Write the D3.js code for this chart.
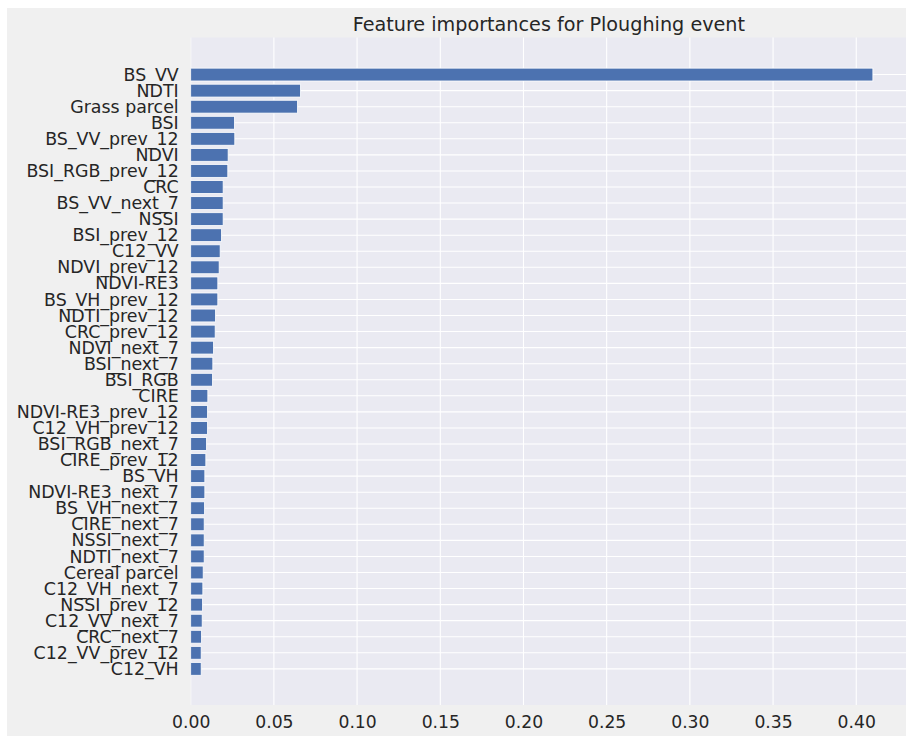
<!DOCTYPE html>
<html>
<head>
<meta charset="utf-8">
<script src="https://cdn.jsdelivr.net/npm/d3@7"></script>
<style>
  html, body { margin: 0; padding: 0; background: #ffffff; }
  svg { display: block; }
  text { font-family: "DejaVu Sans", sans-serif; fill: #262626; }
</style>
</head>
<body>
<script>
// Feature names, most important first
const features = [
  "BS_VV", "NDTI", "Grass parcel", "BSI", "BS_VV_prev_12", "NDVI",
  "BSI_RGB_prev_12", "CRC", "BS_VV_next_7", "NSSI", "BSI_prev_12", "C12_VV",
  "NDVI_prev_12", "NDVI-RE3", "BS_VH_prev_12", "NDTI_prev_12", "CRC_prev_12",
  "NDVI_next_7", "BSI_next_7", "BSI_RGB", "CIRE", "NDVI-RE3_prev_12",
  "C12_VH_prev_12", "BSI_RGB_next_7", "CIRE_prev_12", "BS_VH",
  "NDVI-RE3_next_7", "BS_VH_next_7", "CIRE_next_7", "NSSI_next_7",
  "NDTI_next_7", "Cereal parcel", "C12_VH_next_7", "NSSI_prev_12",
  "C12_VV_next_7", "CRC_next_7", "C12_VV_prev_12", "C12_VH"
];

// Importance of each feature
const importances = [
  0.410, 0.0660, 0.0642, 0.0263, 0.0265, 0.0225,
  0.0223, 0.0195, 0.0195, 0.0195, 0.0185, 0.0177,
  0.0171, 0.0163, 0.0163, 0.0149, 0.0147,
  0.0137, 0.0133, 0.0131, 0.0103, 0.0101,
  0.0101, 0.0095, 0.0091, 0.0085,
  0.0085, 0.0083, 0.0081, 0.0081,
  0.0081, 0.0075, 0.0073, 0.0071,
  0.0069, 0.0065, 0.0063, 0.0063
];

const xTicks = [0, 0.05, 0.10, 0.15, 0.20, 0.25, 0.30, 0.35, 0.40];
const chartTitle = "Feature importances for Ploughing event";

const W = 906, H = 736;
const plot = { left: 190.7, right: 907, top: 37.3, bottom: 705 };

const svg = d3.select("body").append("svg")
  .attr("width", W).attr("height", H);

// figure background
svg.append("rect").attr("x", 7).attr("y", 8)
  .attr("width", W - 7).attr("height", H - 8).attr("fill", "#f0f0f0");

const clip = svg.append("defs").append("clipPath").attr("id", "plotclip");
clip.append("rect").attr("x", plot.left).attr("y", plot.top)
  .attr("width", W - plot.left).attr("height", plot.bottom - plot.top);

const x = d3.scaleLinear().domain([0, 0.4305]).range([plot.left, plot.right]);
const y = d3.scaleLinear().domain([-2.32, features.length + 1.25])
  .range([plot.top, plot.bottom]);
const barH = (y(1) - y(0)) * 0.8;

const g = svg.append("g").attr("clip-path", "url(#plotclip)");

// axes background
g.append("rect").attr("x", plot.left).attr("y", plot.top)
  .attr("width", plot.right - plot.left).attr("height", plot.bottom - plot.top)
  .attr("fill", "#eaeaf2");

// vertical grid
g.selectAll("line.vgrid").data(xTicks).join("line")
  .attr("class", "vgrid")
  .attr("x1", d => x(d)).attr("x2", d => x(d))
  .attr("y1", plot.top).attr("y2", plot.bottom)
  .attr("stroke", "#ffffff").attr("stroke-width", 1.1);

// horizontal grid at each feature
g.selectAll("line.hgrid").data(features).join("line")
  .attr("class", "hgrid")
  .attr("x1", plot.left).attr("x2", plot.right)
  .attr("y1", (d, i) => y(i)).attr("y2", (d, i) => y(i))
  .attr("stroke", "#ffffff").attr("stroke-width", 1.1);

// bars
g.selectAll("rect.bar").data(importances).join("rect")
  .attr("class", "bar")
  .attr("x", x(0))
  .attr("y", (d, i) => y(i) - barH / 2)
  .attr("width", d => x(d) - x(0))
  .attr("height", barH)
  .attr("fill", "#4c72b0")
  .attr("stroke", "#ffffff").attr("stroke-width", 0.8);

// y axis labels
const yAxis = d3.axisLeft(y)
  .tickValues(d3.range(features.length))
  .tickFormat(i => features[i])
  .tickSize(0).tickPadding(12);
const yg = svg.append("g").attr("transform", `translate(${plot.left},0)`).call(yAxis);
yg.select(".domain").remove();
yg.selectAll("text").attr("font-size", 17.4).attr("fill", "#262626")
  .attr("font-family", "DejaVu Sans, sans-serif");

// x axis labels
const xAxis = d3.axisBottom(x).tickValues(xTicks)
  .tickFormat(d3.format(".2f")).tickSize(0).tickPadding(11);
const xg = svg.append("g").attr("transform", `translate(0,${plot.bottom})`).call(xAxis);
xg.select(".domain").remove();
xg.selectAll("text").attr("font-size", 17.2).attr("fill", "#262626")
  .attr("font-family", "DejaVu Sans, sans-serif");

// title
svg.append("text")
  .attr("x", (plot.left + plot.right) / 2).attr("y", 31)
  .attr("text-anchor", "middle").attr("font-size", 19.2)
  .text(chartTitle);
</script>
</body>
</html>
